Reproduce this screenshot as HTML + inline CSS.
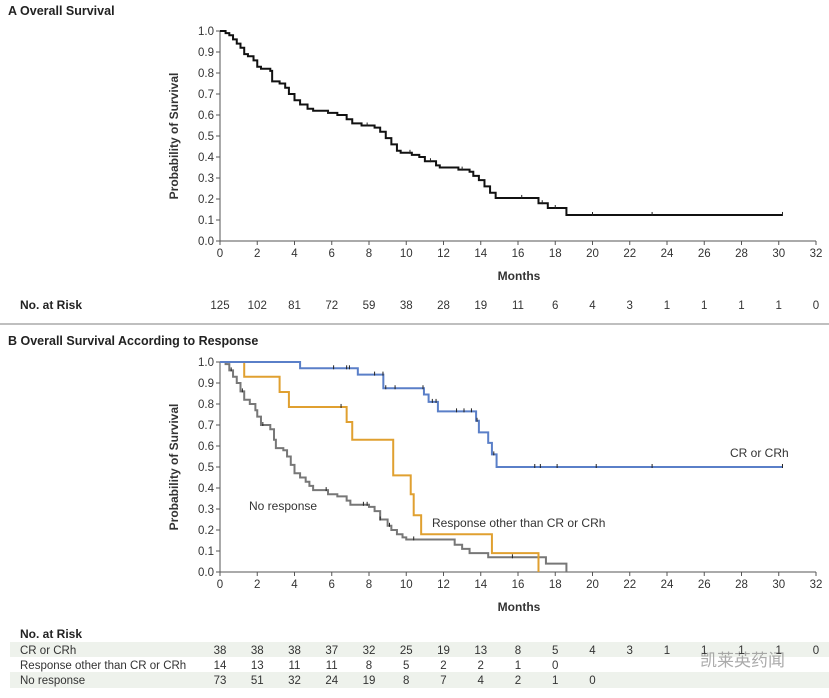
<!DOCTYPE html>
<html><head><meta charset="utf-8">
<style>
body{margin:0;background:#fff;}
svg{display:block;font-family:"Liberation Sans","Noto Sans CJK SC",sans-serif;}
</style></head>
<body>
<svg id="s" width="829" height="698" viewBox="0 0 829 698" xmlns="http://www.w3.org/2000/svg">
<rect x="0" y="0" width="829" height="698" fill="#fff"/>
<text x="8" y="15" font-size="12.5" font-weight="bold" fill="#222">A  Overall Survival</text>
<line x1="0" y1="324" x2="829" y2="324" stroke="#aaa" stroke-width="1.5"/>
<text x="8" y="345" font-size="12.5" font-weight="bold" fill="#222">B  Overall Survival According to Response</text>
<g id="gA"></g><g id="gB"></g>
<text x="20" y="309" font-size="12" font-weight="bold" fill="#222">No. at Risk</text>
<text x="20" y="638" font-size="12" font-weight="bold" fill="#222">No. at Risk</text>
<rect x="10" y="642" width="819" height="15" fill="#eef2ec"/>
<rect x="10" y="672" width="819" height="16" fill="#eef2ec"/>
<text x="20" y="654" font-size="11.5" fill="#333">CR or CRh</text>
<text x="20" y="669" font-size="11.5" fill="#333">Response other than CR or CRh</text>
<text x="20" y="684" font-size="11.5" fill="#333">No response</text>
<text x="700" y="666" font-size="17" fill="#888" opacity="0.7">凯莱英药闻</text>
<g id="rk"></g>
</svg>
<script>
const xTicks=[0,2,4,6,8,10,12,14,16,18,20,22,24,26,28,30,32];
const yTicks=[0,0.1,0.2,0.3,0.4,0.5,0.6,0.7,0.8,0.9,1.0];
const osT=[0,0.3,0.5,0.7,0.9,1.1,1.3,1.5,1.8,2.0,2.2,2.7,2.8,3.2,3.5,3.7,4.0,4.3,4.7,5.0,5.8,6.3,6.8,7.1,7.6,8.3,8.6,8.9,9.2,9.5,9.7,10.3,10.7,11.0,11.6,11.8,12.8,13.4,13.6,13.9,14.2,14.5,14.8,17.1,17.6,18.6];
const osS=[1.0,0.99,0.98,0.96,0.94,0.92,0.89,0.88,0.86,0.83,0.82,0.81,0.76,0.75,0.73,0.70,0.67,0.65,0.63,0.62,0.61,0.60,0.58,0.56,0.55,0.54,0.52,0.49,0.46,0.43,0.42,0.41,0.40,0.38,0.36,0.35,0.34,0.33,0.31,0.29,0.26,0.23,0.205,0.18,0.157,0.124];
const osEnd=30.2;
const osCens=[5.8,7.9,10.2,11.3,13.0,16.2,17.3,18.0,20.0,23.2,30.2];
const crT=[0,4.3,7.4,8.77,10.95,11.2,11.7,13.75,13.9,14.4,14.6,14.85];
const crS=[1.0,0.97,0.94,0.875,0.845,0.81,0.765,0.72,0.665,0.615,0.56,0.5];
const crEnd=30.2;
const crCens=[6.1,6.8,6.95,8.3,8.75,8.9,9.4,10.9,11.4,11.6,12.7,13.1,13.5,13.8,14.7,16.9,17.2,18.1,20.2,23.2,30.2];
const orT=[0,1.3,3.2,3.7,6.8,7.1,9.3,10.24,10.4,10.8,14.6,17.1];
const orS=[1.0,0.93,0.857,0.786,0.714,0.63,0.46,0.37,0.27,0.18,0.09,0.0];
const orEnd=17.1;
const orCens=[6.5];
const nrT=[0,0.3,0.5,0.7,0.9,1.1,1.3,1.6,1.9,2.0,2.2,2.7,2.9,3.0,3.4,3.6,3.8,4.0,4.3,4.6,4.8,5.0,5.8,6.3,6.8,7.0,8.0,8.3,8.6,9.0,9.2,9.5,9.8,10.0,12.6,13.0,13.4,14.4,17.5,18.6];
const nrS=[1.0,0.99,0.96,0.93,0.90,0.86,0.82,0.80,0.77,0.74,0.70,0.68,0.63,0.59,0.58,0.55,0.51,0.47,0.45,0.43,0.41,0.39,0.37,0.36,0.34,0.32,0.31,0.29,0.25,0.22,0.20,0.18,0.165,0.155,0.13,0.11,0.09,0.07,0.04,0.0];
const nrEnd=18.6;
const nrCens=[0.6,1.2,2.3,5.7,7.7,7.9,8.6,9.1,10.4,15.7];
const riskA=[125,102,81,72,59,38,28,19,11,6,4,3,1,1,1,1,0];
const riskCR=[38,38,38,37,32,25,19,13,8,5,4,3,1,1,1,1,0];
const riskOR=[14,13,11,11,8,5,2,2,1,0];
const riskNR=[73,51,32,24,19,8,7,4,2,1,0];

const NS="http://www.w3.org/2000/svg";
function mk(t,a,p){const e=document.createElementNS(NS,t);for(const k in a)e.setAttribute(k,a[k]);p.appendChild(e);return e;}
const x=v=>220+v*(596/32);
function axes(g,y0,y1,pfx){
  const y=v=>y0-(y0-y1)*v;
  let l=mk('line',{x1:220,y1:y(0),x2:816,y2:y(0),stroke:'#555','stroke-width':1},g);
  
  
  l=mk('line',{x1:220,y1:y(0),x2:220,y2:y(1),stroke:'#555','stroke-width':1},g);
  
  
  xTicks.forEach(t=>{
    mk('line',{x1:x(t),y1:y(0),x2:x(t),y2:y(0)+4,stroke:'#555'},g);
    const tx=mk('text',{x:x(t),y:y(0)+16,'font-size':11.5,fill:'#333','text-anchor':'middle'},g);
    tx.textContent=t;
    
    
  });
  yTicks.forEach(v=>{
    mk('line',{x1:216,y1:y(v),x2:220,y2:y(v),stroke:'#555'},g);
    const tx=mk('text',{x:214,y:y(v)+4,'font-size':11.5,fill:'#333','text-anchor':'end'},g);
    tx.textContent=v.toFixed(1);
    
    
  });
  let tt=mk('text',{x:519,y:y(0)+39,'font-size':12,'font-weight':'bold',fill:'#333','text-anchor':'middle'},g);
  tt.textContent='Months';
  
  
  const cy=(y0+y1)/2;
  tt=mk('text',{x:178,y:cy,'font-size':12,'font-weight':'bold',fill:'#333','text-anchor':'middle',transform:`rotate(-90 178 ${cy})`},g);
  tt.textContent='Probability of Survival';
  
  
  return y;
}
function km(g,y,T,S,end,cens,col,w,name){
  let d=`M${x(T[0])},${y(S[0])}`;
  for(let i=1;i<T.length;i++){d+=`H${x(T[i])}V${y(S[i])}`;}
  d+=`H${x(end)}`;
  const p=mk('path',{d:d,fill:'none',stroke:col,'stroke-width':w},g);
  
  
  cens.forEach(c=>{
    let k=0;for(let i=0;i<T.length;i++){if(T[i]<=c)k=i;}
    const m=mk('line',{x1:x(c),x2:x(c),y1:y(S[k])-3,y2:y(S[k])+1,stroke:'#222','stroke-width':1},g);
    
    
  });
}
const gA=document.getElementById('gA'),gB=document.getElementById('gB'),rk=document.getElementById('rk');
const yA=axes(gA,241,31,'a');
km(gA,yA,osT,osS,osEnd,osCens,'#111',2,'overall');
const yB=axes(gB,572,362,'b');
km(gB,yB,nrT,nrS,nrEnd,nrCens,'#777',2,'no-response');
km(gB,yB,orT,orS,orEnd,orCens,'#e0a030',2,'other-response');
km(gB,yB,crT,crS,crEnd,crCens,'#5a7fc8',2,'cr-crh');
[['CR or CRh',730,457,'label-cr'],['No response',249,510,'label-no-response'],['Response other than CR or CRh',432,527,'label-other-response']].forEach(a=>{
  const t=mk('text',{x:a[1],y:a[2],'font-size':12,fill:'#333'},gB);t.textContent=a[0];
  
  
});
function row(arr,yy,name){arr.forEach((v,i)=>{
  const t=mk('text',{x:x(xTicks[i]),y:yy,'font-size':11.5,fill:'#333','text-anchor':'middle'},rk);t.textContent=v;
  
  
});}
row(riskA,309,'risk-a-value');
row(riskCR,654,'risk-cr-value');
row(riskOR,669,'risk-other-value');
row(riskNR,684,'risk-none-value');
</script>
</body></html>
